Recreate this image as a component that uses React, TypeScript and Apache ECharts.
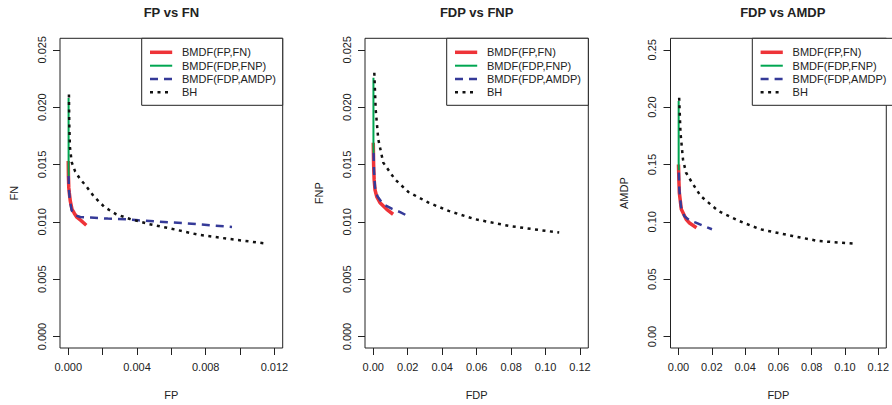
import React, { useEffect, useRef } from "react";
import * as echarts from "echarts";

// ---------- data ----------
const seriesNames = ["BMDF(FP,FN)", "BMDF(FDP,FNP)", "BMDF(FDP,AMDP)", "BH"];
const panelTitles = ["FP vs FN", "FDP vs FNP", "FDP vs AMDP"];
const xNames = ["FP", "FDP", "FDP"];
const yNames = ["FN", "FNP", "AMDP"];

// Panel 1: FP vs FN
const p1Red: [number, number][] = [[0, 0.0153], [0.00001, 0.0140], [0.00003, 0.0130], [0.00006, 0.01254], [0.00012, 0.0118], [0.00022, 0.01109], [0.00035, 0.01075], [0.0005, 0.0104], [0.00075, 0.0101], [0.00105, 0.0097]];
const p1Green: [number, number][] = [[0.00002, 0.0208], [0.00002, 0.0145], [0.00003, 0.0140]];
const p1Blue: [number, number][] = [[0.00002, 0.0140], [0.00004, 0.0128], [0.0001, 0.0118], [0.0002, 0.0110], [0.00035, 0.0106], [0.0007, 0.01042], [0.0013, 0.01037], [0.0023, 0.01028], [0.0034, 0.01022], [0.0041, 0.01013], [0.0069, 0.00987], [0.00953, 0.00955]];
const p1Black: [number, number][] = [[0.00004, 0.0211], [0.00006, 0.0185], [0.0001, 0.0165], [0.0002, 0.0152], [0.0004, 0.0144], [0.0007, 0.0137], [0.001, 0.0132], [0.0015, 0.0122], [0.0021, 0.0113], [0.0028, 0.01065], [0.0036, 0.01025], [0.0047, 0.0098], [0.006, 0.0094], [0.0075, 0.0089], [0.0092, 0.00854], [0.01137, 0.00813]];

// Panel 2: FDP vs FNP
const p2Red: [number, number][] = [[0, 0.0169], [0.0002, 0.0150], [0.0005, 0.0137], [0.001, 0.0128], [0.002, 0.0122], [0.0039, 0.01167], [0.0078, 0.01109], [0.0115, 0.01066]];
const p2Green: [number, number][] = [[0.0001, 0.02256], [0.0001, 0.0165], [0.0002, 0.0160]];
const p2Blue: [number, number][] = [[0.0002, 0.0160], [0.0004, 0.0145], [0.001, 0.0130], [0.0025, 0.0122], [0.0058, 0.01152], [0.0107, 0.01115], [0.0156, 0.01085], [0.0201, 0.0105]];
const p2Black: [number, number][] = [[0.0006, 0.0230], [0.0014, 0.0198], [0.0029, 0.0172], [0.0058, 0.01516], [0.0126, 0.0137], [0.0204, 0.0126], [0.0321, 0.01167], [0.0438, 0.01095], [0.0593, 0.01022], [0.0788, 0.00964], [0.1079, 0.00906]];

// Panel 3: FDP vs AMDP
const p3Red: [number, number][] = [[0, 0.150], [0.0002, 0.138], [0.0005, 0.1254], [0.0017, 0.1109], [0.0046, 0.1022], [0.0066, 0.099], [0.0108, 0.0949]];
const p3Green: [number, number][] = [[0.0001, 0.2053], [0.0001, 0.152], [0.0002, 0.145]];
const p3Blue: [number, number][] = [[0.0002, 0.143], [0.0005, 0.128], [0.0015, 0.113], [0.0035, 0.105], [0.0066, 0.1013], [0.0104, 0.0993], [0.0152, 0.0963], [0.0201, 0.0935]];
const p3Black: [number, number][] = [[0.0004, 0.2082], [0.0012, 0.1777], [0.0027, 0.1544], [0.0045, 0.143], [0.0075, 0.1356], [0.0133, 0.1225], [0.024, 0.1094], [0.0365, 0.1007], [0.0491, 0.0935], [0.0684, 0.0877], [0.0839, 0.0833], [0.1052, 0.081]];

// axis ticks / labels
const p1XTicks = [0, 0.002, 0.004, 0.006, 0.008, 0.010, 0.012];
const p1XLabels = [0, 0.004, 0.008, 0.012];
const p23XTicks = [0, 0.02, 0.04, 0.06, 0.08, 0.10, 0.12];
const p12YTicks = [0, 0.005, 0.010, 0.015, 0.020, 0.025];
const p3YTicks = [0, 0.05, 0.10, 0.15, 0.20, 0.25];

// ---------- layout / style ----------
const FONT = "'Liberation Sans', Arial, Helvetica, sans-serif";
const TEXT = "#222";
const grids = [
  { left: 60, width: 222.7 },
  { left: 365, width: 223.3 },
  { left: 670.5, width: 224.5 },
];
const GTOP = 38.3;
const GH = 310;
const legendLeft = [141.7, 446.7, 752.3];
const LEG_H = 67;
const LEG_ROWS = [14, 27.4, 40.7, 54];

const styles = [
  { color: "#EE3338", width: 3.5, type: "solid" as any, dash: null as any },
  { color: "#00A651", width: 2, type: "solid" as any, dash: null as any },
  { color: "#353A98", width: 2.5, type: [8, 6] as any, dash: [8, 6] },
  { color: "#111111", width: 2.5, type: [3, 4.5] as any, dash: [3, 4.5] },
];

const panelData = [
  [p1Red, p1Green, p1Blue, p1Black],
  [p2Red, p2Green, p2Blue, p2Black],
  [p3Red, p3Green, p3Blue, p3Black],
];

const xRanges = [
  { min: -0.00048, max: 0.01248, ticks: p1XTicks, labels: p1XLabels, dec: 3 },
  { min: -0.0048, max: 0.1248, ticks: p23XTicks, labels: p23XTicks, dec: 2 },
  { min: -0.0048, max: 0.1248, ticks: p23XTicks, labels: p23XTicks, dec: 2 },
];
const yRanges = [
  { min: -0.001, max: 0.026, ticks: p12YTicks, dec: 3 },
  { min: -0.001, max: 0.026, ticks: p12YTicks, dec: 3 },
  { min: -0.01, max: 0.26, ticks: p3YTicks, dec: 2 },
];

function legendGraphic(i: number) {
  const L = legendLeft[i];
  const W = grids[i].left + grids[i].width - L;
  const children: any[] = [
    {
      type: "rect",
      shape: { x: L, y: GTOP, width: W, height: LEG_H },
      style: { fill: "#fff", stroke: "#222", lineWidth: 1 },
    },
  ];
  seriesNames.forEach((name, k) => {
    const y = GTOP + LEG_ROWS[k];
    children.push({
      type: "line",
      shape: { x1: L + 8.3, y1: y, x2: L + 30.5, y2: y },
      style: {
        stroke: styles[k].color,
        lineWidth: styles[k].width,
        lineDash: styles[k].dash || undefined,
        lineCap: "butt",
      },
    });
    children.push({
      type: "text",
      x: L + 40.3,
      y,
      style: {
        text: name,
        fill: TEXT,
        font: `11px ${FONT}`,
        textAlign: "left",
        textVerticalAlign: "middle",
        verticalAlign: "middle",
      },
    });
  });
  return { type: "group", z: 100, children };
}

export default function App() {
  const ref = useRef<HTMLDivElement>(null);
  useEffect(() => {
    if (!ref.current) return;
    const chart = echarts.init(ref.current, null, { renderer: "svg" });
    const option: any = {
      animation: false,
      backgroundColor: "#ffffff",
      title: panelTitles.map((t, i) => ({
        text: t,
        left: grids[i].left + grids[i].width / 2,
        top: 6,
        padding: 0,
        textAlign: "center",
        textStyle: { fontSize: 13, fontWeight: "bold", color: TEXT, fontFamily: FONT },
      })),
      graphic: [0, 1, 2].map((i) => legendGraphic(i)),
      grid: grids.map((g) => ({
        left: g.left,
        top: GTOP,
        width: g.width,
        height: GH,
        show: true,
        borderColor: "#222",
        borderWidth: 1,
        backgroundColor: "transparent",
        containLabel: false,
      })),
      xAxis: xRanges.map((r, i) => ({
        type: "value",
        gridIndex: i,
        min: r.min,
        max: r.max,
        name: xNames[i],
        nameLocation: "middle",
        nameGap: 41,
        nameTextStyle: { fontSize: 11, color: TEXT, fontFamily: FONT },
        axisLine: { show: false, onZero: false },
        axisTick: { show: true, inside: false, length: 7, lineStyle: { color: "#222", width: 1 }, customValues: r.ticks },
        axisLabel: {
          show: true,
          margin: 13,
          fontSize: 11,
          color: TEXT,
          fontFamily: FONT,
          customValues: r.labels,
          formatter: (v: number) => v.toFixed(r.dec),
        },
        splitLine: { show: false },
      })),
      yAxis: yRanges.map((r, i) => ({
        type: "value",
        gridIndex: i,
        min: r.min,
        max: r.max,
        name: yNames[i],
        nameLocation: "middle",
        nameGap: 41,
        nameRotate: 90,
        nameTextStyle: { fontSize: 11, color: TEXT, fontFamily: FONT },
        axisLine: { show: false, onZero: false },
        axisTick: { show: true, inside: false, length: 7, lineStyle: { color: "#222", width: 1 }, customValues: r.ticks },
        axisLabel: {
          show: true,
          margin: 13,
          rotate: 90,
          fontSize: 11,
          color: TEXT,
          fontFamily: FONT,
          customValues: r.ticks,
          formatter: (v: number) => v.toFixed(r.dec),
        },
        splitLine: { show: false },
      })),
      series: panelData.flatMap((arrs, i) =>
        arrs.map((d, k) => ({
          type: "line",
          name: seriesNames[k],
          xAxisIndex: i,
          yAxisIndex: i,
          data: d,
          symbol: "none",
          showSymbol: false,
          smooth: false,
          clip: true,
          z: 2 + k,
          color: styles[k].color,
          lineStyle: { color: styles[k].color, width: styles[k].width, type: styles[k].type, cap: "butt", join: "round" },
          emphasis: { disabled: true },
        }))
      ),
    };
    chart.setOption(option);
    return () => chart.dispose();
  }, []);
  return (
    <div
      ref={ref}
      style={{ position: "absolute", left: 0, top: 0, width: 892, height: 405 }}
    />
  );
}
